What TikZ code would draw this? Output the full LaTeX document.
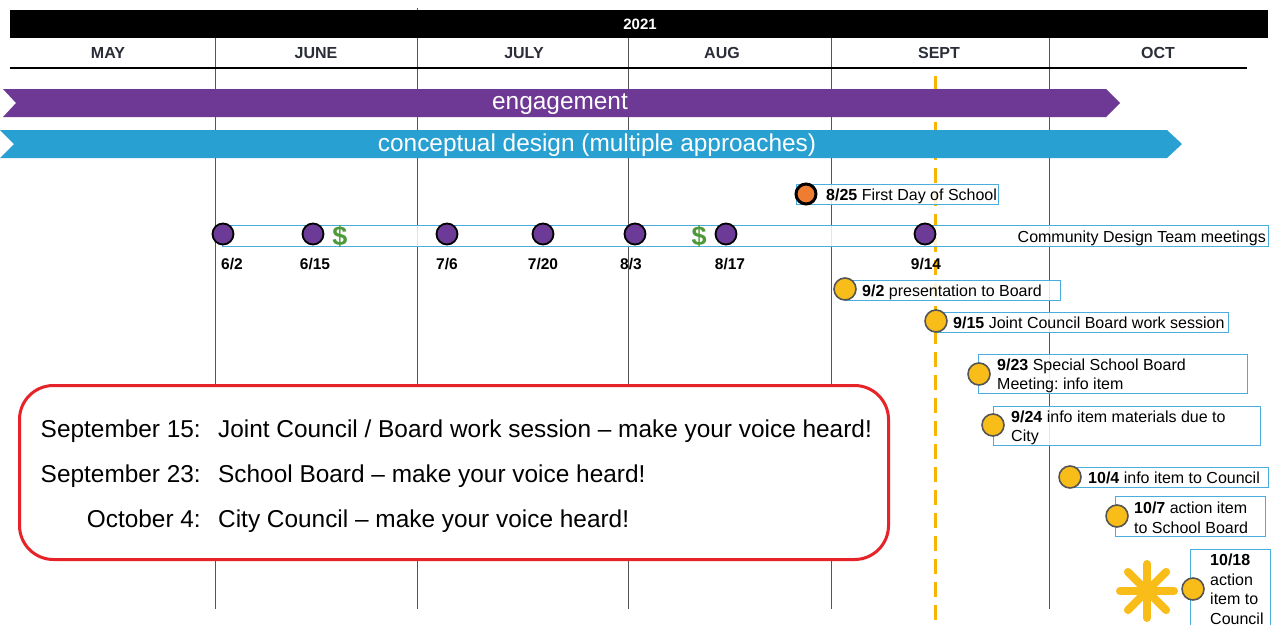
\documentclass[tikz,border=0pt]{standalone}
\usepackage{fontspec}
\setmainfont{Liberation Sans}
\frenchspacing
\definecolor{engpurple}{HTML}{6E3994}
\definecolor{cdblue}{HTML}{28A0D2}
\definecolor{dotpurple}{HTML}{6C3B97}
\definecolor{dotorange}{HTML}{EE7D31}
\definecolor{dotyellow}{HTML}{F8BD19}
\definecolor{boxblue}{HTML}{4BACE0}
\definecolor{alertred}{HTML}{E52329}
\definecolor{dollargreen}{HTML}{4E9A3A}
\definecolor{dashorange}{HTML}{F8B400}
\definecolor{monthgray}{HTML}{2B2D38}
\definecolor{gridgray}{HTML}{555555}
\tikzset{
  monthlbl/.style={font=\bfseries\fontsize{16}{18}\selectfont, text=monthgray, inner sep=0},
  grid line/.style={draw=gridgray, line width=0.9},
  barlbl/.style={font=\fontsize{24.4}{28}\selectfont, text=white, inner sep=0},
  evbox/.style={draw=boxblue, line width=1.4, fill=white, fill opacity=0.85, rectangle, inner sep=0, anchor=north west},
  evtext/.style={font=\fontsize{16}{19.5}\selectfont, inner sep=0, align=left},
  datelbl/.style={font=\bfseries\fontsize{15.5}{18}\selectfont, inner sep=0},
  pdot/.style={circle, fill=dotpurple, draw=black, line width=1.8, minimum size=21, inner sep=0},
  odot/.style={circle, fill=dotorange, draw=black, line width=3, minimum size=20, inner sep=0},
  ydot/.style={circle, fill=dotyellow, draw=gridgray, line width=1.6, minimum size=22, inner sep=0},
  dollar/.style={font=\bfseries\fontsize{27}{30}\selectfont, text=dollargreen, inner sep=0},
  calltxt/.style={font=\fontsize{24.4}{28}\selectfont, inner sep=0},
}
\begin{document}
\begin{tikzpicture}[x=1pt,y=-1pt]
\clip (0,0) rectangle (1273,624);
\fill[white] (0,0) rectangle (1273,624);
% grid
\foreach \gx in {215,628,831,1049} {\draw[grid line] (\gx,38) -- (\gx,609);}
\draw[grid line] (417,8) -- (417,609);
% header
\node[fill=black, minimum width=1258, minimum height=28, inner sep=0, anchor=north west] (yearbar) at (10,10) {};
\node[font=\bfseries\fontsize{15}{18}\selectfont, text=white, inner sep=0] (year) at (640,24) {2021};
\node[monthlbl] (may) at (108,53) {MAY};
\node[monthlbl] (jun) at (316,53) {JUNE};
\node[monthlbl] (jul) at (524,53) {JULY};
\node[monthlbl] (aug) at (722,53) {AUG};
\node[monthlbl] (sep) at (939,53) {SEPT};
\node[monthlbl] (oct) at (1158,53) {OCT};
\draw[black, line width=1.8] (10,68) -- (1247,68);
% dashed today line
\draw[dashorange, line width=3, dash pattern=on 15 off 8] (935,76) -- (935,630);
% bars
\fill[engpurple] (3,89) -- (1106,89) -- (1120,103) -- (1106,117) -- (3,117) -- (16,103) -- cycle;
\node[barlbl] (eng) at (560,104.5) {engagement};
\fill[cdblue] (0,130) -- (1167,130) -- (1182,144) -- (1167,158) -- (0,158) -- (14,144) -- cycle;
\node[barlbl] (cd) at (597,145.5) {conceptual design (multiple approaches)};
% 8/25
\node[evbox, minimum width=202, minimum height=20] (b825) at (796,184) {};
\node[odot] (d825) at (806,194) {};
\node[evtext, anchor=base west] (t825) at (826,200) {\textbf{8/25} First Day of School};
% community design team
\node[evbox, minimum width=1046, minimum height=21] (bcdt) at (222,225) {};
\node[evtext, anchor=base east] (tcdt) at (1266,242) {Community Design Team meetings};
\node[pdot] (m1) at (223,234) {};
\node[pdot] (m2) at (313,234) {};
\node[pdot] (m3) at (447,234) {};
\node[pdot] (m4) at (543,234) {};
\node[pdot] (m5) at (635,234) {};
\node[pdot] (m6) at (726,234) {};
\node[pdot] (m7) at (925,234) {};
\node[dollar] (usd1) at (340,236) {\$};
\node[dollar] (usd2) at (699,236) {\$};
\node[datelbl] (l1) at (232,264) {6/2};
\node[datelbl] (l2) at (315,264) {6/15};
\node[datelbl] (l3) at (447,264) {7/6};
\node[datelbl] (l4) at (543,264) {7/20};
\node[datelbl] (l5) at (631,264) {8/3};
\node[datelbl] (l6) at (730,264) {8/17};
\node[datelbl] (l7) at (926,264) {9/14};
% 9/2
\node[evbox, minimum width=215, minimum height=20] (b92) at (845,280) {};
\node[ydot] (d92) at (845,289) {};
\node[evtext, anchor=base west] (t92) at (862,296) {\textbf{9/2} presentation to Board};
% 9/15
\node[evbox, minimum width=292, minimum height=20] (b915) at (936,312) {};
\node[ydot] (d915) at (936,321) {};
\node[evtext, anchor=base west] (t915) at (953,328) {\textbf{9/15} Joint Council Board work session};
% 9/23
\node[evbox, minimum width=269, minimum height=39] (b923) at (978,354) {};
\node[ydot] (d923) at (979,374) {};
\node[evtext, anchor=west] (t923) at (997,376) {\textbf{9/23} Special School Board\\Meeting: info item};
% 9/24
\node[evbox, minimum width=267, minimum height=39] (b924) at (993,406) {};
\node[ydot] (d924) at (993,425) {};
\node[evtext, anchor=west] (t924) at (1011,428) {\textbf{9/24} info item materials due to\\City};
% 10/4
\node[evbox, minimum width=198, minimum height=20] (b104) at (1070,467) {};
\node[ydot] (d104) at (1070,477) {};
\node[evtext, anchor=base west] (t104) at (1088,483.5) {\textbf{10/4} info item to Council};
% 10/7
\node[evbox, minimum width=150, minimum height=40] (b107) at (1115,496) {};
\node[ydot] (d107) at (1117,516) {};
\node[evtext, anchor=west] (t107) at (1134,518) {\textbf{10/7} action item\\to School Board};
% 10/18
\node[evbox, minimum width=80, minimum height=90] (b1018) at (1190,549) {};
\node[ydot] (d1018) at (1193,589) {};
\node[evtext, anchor=north west] (t1018) at (1210,554) {\textbf{10/18}\\action\\item to\\Council};
% asterisk
\coordinate (star) at (1147,591);
\foreach \a in {0,45,...,315} {\draw[dotyellow, line width=8, line cap=round] (star) -- ++(\a:27);}
% callout
\node[draw=alertred, line width=3, fill=white, rounded corners=34, minimum width=869, minimum height=174, inner sep=0, anchor=north west] (callout) at (18,384) {};
\node[calltxt, anchor=base east] (c1a) at (201,437) {September 15:};
\node[calltxt, anchor=base west] (c1b) at (218,437) {Joint Council / Board work session -- make your voice heard!};
\node[calltxt, anchor=base east] (c2a) at (201,482) {September 23:};
\node[calltxt, anchor=base west] (c2b) at (218,482) {School Board -- make your voice heard!};
\node[calltxt, anchor=base east] (c3a) at (201,527) {October 4:};
\node[calltxt, anchor=base west] (c3b) at (218,527) {City Council -- make your voice heard!};
\end{tikzpicture}
\end{document}
